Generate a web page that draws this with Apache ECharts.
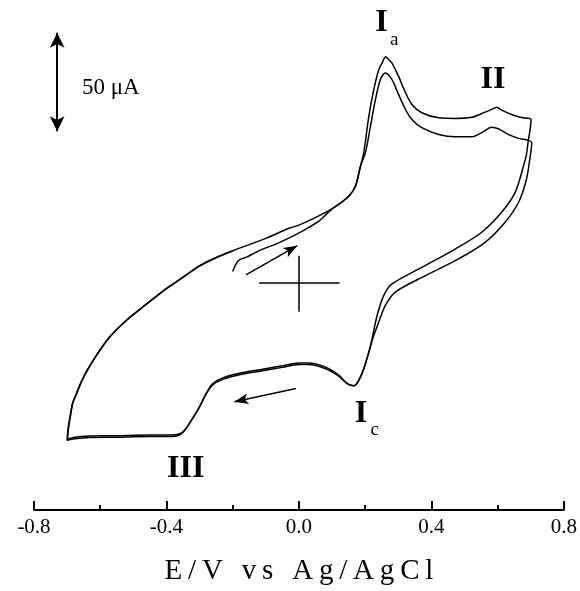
<!DOCTYPE html>
<html>
<head>
<meta charset="utf-8">
<script src="https://cdn.jsdelivr.net/npm/echarts@6/dist/echarts.min.js"></script>
<style>
  html, body { margin: 0; padding: 0; background: #fff; }
  #cvChart { width: 580px; height: 591px; }
</style>
</head>
<body>
<div id="cvChart"></div>
<script>
// E (V vs Ag/AgCl), i (uA)
var cycle1 = [
  [-0.200, 5.9], [-0.192, 9.2], [-0.180, 11.8], [-0.160, 13.1], [-0.120, 16.5], [-0.070, 19.8], [-0.020, 23.7],
  [0.021, 27.4], [0.061, 31.6], [0.101, 37.8], [0.121, 40.1], [0.151, 44.2], [0.171, 49.3], [0.186, 59.4], [0.196, 66.3],
  [0.211, 84.6], [0.226, 98.1], [0.241, 108.2], [0.251, 111.6], [0.262, 114.8], [0.271, 113.3], [0.281, 111.6],
  [0.301, 104.8], [0.322, 96.5], [0.341, 90.6], [0.371, 86.4], [0.422, 83.8], [0.472, 83.5], [0.522, 84.1],
  [0.562, 86.7], [0.587, 88.5], [0.597, 89.2], [0.612, 87.7], [0.642, 85.5], [0.672, 84.0], [0.701, 83.0],
  [0.698, 77.9], [0.693, 72.8], [0.687, 65.3], [0.678, 59.4], [0.653, 46.0], [0.612, 35.9], [0.552, 25.8],
  [0.472, 17.3], [0.372, 8.1], [0.281, -0.4], [0.256, -6.3], [0.236, -16.4], [0.221, -28.1],
  [0.214, -33.2], [0.196, -43.3], [0.181, -49.2], [0.166, -52.0], [0.146, -50.9], [0.121, -46.7], [0.090, -43.3],
  [0.060, -41.3], [0.030, -40.5], [0.000, -40.5], [-0.050, -41.9], [-0.110, -43.6], [-0.170, -45.3], [-0.230, -48.0],
  [-0.260, -50.9], [-0.280, -55.9], [-0.300, -62.6], [-0.321, -68.5], [-0.341, -73.6], [-0.356, -76.1], [-0.381, -77.0],
  [-0.451, -77.0], [-0.551, -77.3], [-0.632, -77.5], [-0.677, -78.1], [-0.699, -79.1],
  [-0.696, -73.6], [-0.690, -67.5], [-0.683, -61.0], [-0.671, -55.9], [-0.656, -49.8], [-0.641, -44.8], [-0.611, -36.6],
  [-0.571, -27.3], [-0.521, -18.9], [-0.471, -12.1], [-0.401, -2.9], [-0.371, 0.5], [-0.300, 8.9],
  [-0.250, 13.1], [-0.200, 16.5]
];
var cycle2 = [
  [-0.200, 16.5], [-0.100, 22.7], [-0.030, 27.8], [0.000, 29.4], [0.081, 35.9], [0.121, 40.1], [0.151, 44.2],
  [0.171, 49.3], [0.186, 59.4], [0.201, 66.3], [0.216, 79.6], [0.231, 93.1], [0.246, 103.2], [0.261, 106.6],
  [0.281, 103.2], [0.301, 95.6], [0.322, 88.0], [0.341, 83.0], [0.371, 78.8], [0.422, 75.4], [0.472, 74.2],
  [0.522, 74.2], [0.552, 76.3], [0.582, 79.1], [0.602, 78.3], [0.632, 75.4], [0.663, 73.4], [0.693, 72.4], [0.703, 71.2],
  [0.697, 62.8], [0.687, 52.7], [0.663, 40.9], [0.622, 30.8], [0.562, 20.7], [0.482, 12.3], [0.382, 3.8],
  [0.291, -4.5], [0.261, -11.3], [0.241, -19.7], [0.223, -28.1],
  [0.214, -33.2], [0.196, -43.3], [0.181, -49.2], [0.166, -52.0], [0.146, -50.9], [0.121, -47.3], [0.090, -44.1],
  [0.060, -42.1], [0.030, -41.3], [0.000, -41.3], [-0.050, -42.7], [-0.110, -44.4], [-0.170, -46.1], [-0.230, -48.8],
  [-0.262, -51.8], [-0.282, -56.7], [-0.302, -63.3], [-0.323, -69.1], [-0.343, -74.2], [-0.358, -76.8], [-0.381, -77.8],
  [-0.451, -77.8], [-0.551, -78.1], [-0.632, -78.3], [-0.677, -78.9], [-0.700, -79.6],
  [-0.697, -73.6], [-0.691, -67.5], [-0.684, -61.0], [-0.672, -55.9], [-0.657, -49.8], [-0.642, -44.8], [-0.612, -36.6],
  [-0.572, -27.3], [-0.522, -18.9], [-0.472, -12.1], [-0.402, -2.9], [-0.372, 0.5], [-0.300, 8.6],
  [-0.250, 12.9], [-0.200, 16.3]
];

// annotations, in data units
var scaleBar = [[-0.730, 77], [-0.730, 127]];
var scaleText = '50 μA';
var scaleTextAt = [-0.655, 99];
var sweepForward = [[-0.160, 4.2], [-0.005, 19.0]];
var sweepBack = [[-0.009, -53.4], [-0.195, -60.1]];
var originH = [[-0.120, 0], [0.123, 0]];
var originV = [[0, 13.9], [0, -14.5]];
var peakNames = ['I', 'II', 'III', 'I'];
var peakAt = [[0.249, 132.2], [0.586, 103.0], [-0.342, -94.2], [0.187, -66.1]];
var subNames = ['a', 'c'];
var subAt = [[0.288, 123.5], [0.229, -74.5]];

var serif = "'Liberation Serif', 'Times New Roman', serif";
var ink = '#000';

var chart = echarts.init(document.getElementById('cvChart'));

function spaced(s) {
  return s.split('').join('\u2009');
}

function arrowSeries(pts, symbols, size, width) {
  return {
    type: 'scatter',
    data: [],
    silent: true,
    markLine: {
      silent: true,
      animation: false,
      symbol: symbols,
      symbolSize: size,
      label: { show: false },
      lineStyle: { color: ink, width: width, type: 'solid', opacity: 1 },
      itemStyle: { color: ink, opacity: 1 },
      emphasis: { disabled: true },
      data: [[{ coord: pts[0] }, { coord: pts[1] }]]
    }
  };
}

var labelData = [];
for (var i = 0; i < peakNames.length; i++) {
  labelData.push({
    value: peakAt[i],
    label: {
      show: true, position: 'inside', formatter: peakNames[i],
      fontFamily: serif, fontWeight: 'bold', fontSize: 32, color: ink
    }
  });
}
for (var j = 0; j < subNames.length; j++) {
  labelData.push({
    value: subAt[j],
    label: {
      show: true, position: 'inside', formatter: subNames[j],
      fontFamily: serif, fontSize: 19, color: ink
    }
  });
}
labelData.push({
  value: scaleTextAt,
  label: {
    show: true, position: 'right', distance: 0, formatter: scaleText,
    fontFamily: serif, fontSize: 23, color: ink
  }
});

var option = {
  animation: false,
  backgroundColor: '#fff',
  grid: { left: 34, right: 14, top: 7, bottom: 79 },
  xAxis: {
    type: 'value',
    min: -0.8,
    max: 0.8,
    interval: 0.4,
    name: spaced('E/V vs Ag/AgCl'),
    nameLocation: 'middle',
    nameGap: 47,
    nameTextStyle: { fontFamily: serif, fontSize: 29, color: ink },
    axisLine: { onZero: false, lineStyle: { color: ink, width: 2 } },
    axisTick: { inside: true, length: 9, lineStyle: { color: ink, width: 2 } },
    minorTick: { show: true, splitNumber: 2, length: 5, lineStyle: { color: ink, width: 2 } },
    splitLine: { show: false },
    axisLabel: {
      margin: 7,
      fontFamily: serif,
      fontSize: 21,
      color: ink,
      formatter: function (v) { return v.toFixed(1); }
    }
  },
  yAxis: {
    type: 'value',
    min: -115,
    max: 140,
    show: false
  },
  series: [
    {
      name: 'cycle 1', type: 'line', data: cycle1, smooth: 0.3,
      showSymbol: false, silent: true,
      lineStyle: { color: ink, width: 1.5 }
    },
    {
      name: 'cycle 2', type: 'line', data: cycle2, smooth: 0.3,
      showSymbol: false, silent: true,
      lineStyle: { color: ink, width: 1.5 }
    },
    arrowSeries(scaleBar, ['arrow', 'arrow'], [11, 15], 2),
    arrowSeries(sweepForward, ['none', 'arrow'], [8, 14], 1.5),
    arrowSeries(sweepBack, ['none', 'arrow'], [8, 14], 1.5),
    arrowSeries(originH, ['none', 'none'], 0, 1.5),
    arrowSeries(originV, ['none', 'none'], 0, 1.5),
    {
      type: 'scatter', symbolSize: 0, silent: true,
      itemStyle: { opacity: 1 },
      data: labelData
    }
  ]
};
chart.setOption(option);
</script>
</body>
</html>
